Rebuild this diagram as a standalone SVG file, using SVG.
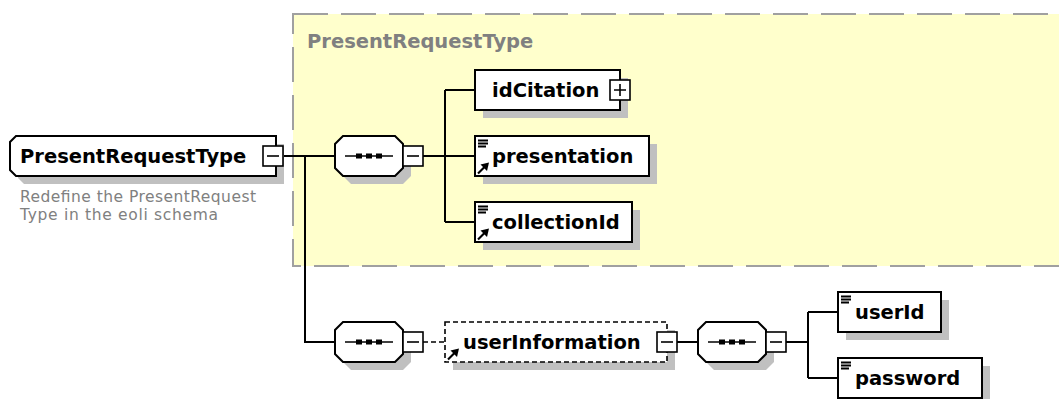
<svg xmlns="http://www.w3.org/2000/svg" width="1059" height="399" viewBox="0 0 1059 399">
<style>
.bg{fill:#ffffff}
.area{fill:#ffffcc;stroke:#a0a0a0;stroke-width:2;stroke-dasharray:35 13}
.shadow{fill:#c0c0c0;stroke:none}
.box{fill:#ffffff;stroke:#000000;stroke-width:2}
.dbox{fill:#ffffff;stroke:#000000;stroke-width:1.6;stroke-dasharray:5 3}
.btn{fill:#ffffff;stroke:#000000;stroke-width:1.6}
.sym{stroke:#000000;stroke-width:1.6;fill:none}
.wire{stroke:#000000;stroke-width:2;fill:none}
.dwire{stroke:#000000;stroke-width:1.6;fill:none;stroke-dasharray:5 3}
.lbl{font-family:"DejaVu Sans",Verdana,sans-serif;font-weight:bold;font-size:19.5px;fill:#000000}
.title{font-family:"DejaVu Sans",Verdana,sans-serif;font-weight:bold;font-size:19.5px;fill:#808080}
.doc{font-family:"DejaVu Sans",Verdana,sans-serif;font-size:15.5px;fill:#808080}
.ico{stroke:#000000;stroke-width:1.8;fill:none}
.dot{fill:#000000}
</style>
<defs>
<g id="lines"><path class="ico" d="M3,4.5 H13 M3,7.5 H13 M3,10.5 H11"/></g>
<g id="ref"><path d="M3,37.5 L10,30.5" stroke="#000" stroke-width="2.2"/><path d="M14,26.5 L5.5,28.5 L12,35 Z" fill="#000"/></g>
<path id="oct" d="M8,0 H60 L68,8 V32 L60,40 H8 L0,32 V8 Z"/>
<g id="seqin"><path d="M10,20 H58" class="sym"/><rect x="21" y="17.5" width="6" height="5" class="dot"/><rect x="31" y="17.5" width="6" height="5" class="dot"/><rect x="41" y="17.5" width="6" height="5" class="dot"/></g>
<g id="minus"><rect x="0" y="0" width="20" height="20" class="btn"/><path d="M4,10 H16" class="sym"/></g>
<g id="plus"><rect x="0" y="0" width="20" height="20" class="btn"/><path d="M4,10 H16 M10,4 V16" class="sym"/></g>
</defs>
<rect class="bg" x="0" y="0" width="1059" height="399"/>
<g id="typeArea">
<rect class="area" x="293" y="14" width="790" height="252"/>
<text class="title" x="307" y="48">PresentRequestType</text>
</g>
<g id="connectors">
<path class="wire" d="M283,156 H335 M305,156 V342 H335"/>
<path class="wire" d="M423,156 H445 M445,90 V222 M445,90 H475 M445,156 H475 M445,222 H475"/>
<path class="dwire" d="M423,342 H445"/>
<path class="wire" d="M677,342 H698"/>
<path class="wire" d="M786,342 H808 M808,312 V378 M808,312 H838 M808,378 H838"/>
</g>
<g id="root">
<path class="shadow" d="M24,144 H284 V184 H24 L18,178 V150 Z"/>
<path class="box" d="M16,136 H276 V176 H16 L10,170 V142 Z"/>
<text class="lbl" x="20" y="163">PresentRequestType</text>
<use href="#minus" x="263" y="146"/>
<text class="doc" x="20" y="202" textLength="236" lengthAdjust="spacing">Redefine the PresentRequest</text>
<text class="doc" x="20" y="220" textLength="198" lengthAdjust="spacing">Type in the eoli schema</text>
</g>
<g id="seq1">
<use href="#oct" x="343" y="144" class="shadow"/>
<use href="#oct" x="335" y="136" class="box"/>
<use href="#seqin" x="335" y="136"/>
<use href="#minus" x="403" y="146"/>
</g>
<g id="idCitation">
<rect class="shadow" x="483" y="78" width="145" height="40"/>
<rect class="box" x="475" y="70" width="145" height="40"/>
<text class="lbl" x="492" y="97">idCitation</text>
<use href="#plus" x="610" y="80"/>
</g>
<g id="presentation">
<rect class="shadow" x="483" y="144" width="174" height="40"/>
<rect class="box" x="475" y="136" width="174" height="40"/>
<use href="#lines" x="475" y="136"/>
<use href="#ref" x="475" y="136"/>
<text class="lbl" x="492" y="163">presentation</text>
</g>
<g id="collectionId">
<rect class="shadow" x="483" y="210" width="157" height="40"/>
<rect class="box" x="475" y="202" width="157" height="40"/>
<use href="#lines" x="475" y="202"/>
<use href="#ref" x="475" y="202"/>
<text class="lbl" x="492" y="229">collectionId</text>
</g>
<g id="seq2">
<use href="#oct" x="343" y="330" class="shadow"/>
<use href="#oct" x="335" y="322" class="box"/>
<use href="#seqin" x="335" y="322"/>
<use href="#minus" x="403" y="332"/>
</g>
<g id="userInformation">
<rect class="shadow" x="453" y="330" width="222" height="40"/>
<rect class="dbox" x="445" y="322" width="222" height="40"/>
<use href="#ref" x="445" y="322"/>
<text class="lbl" x="463" y="349">userInformation</text>
<use href="#minus" x="657" y="332"/>
</g>
<g id="seq3">
<use href="#oct" x="706" y="330" class="shadow"/>
<use href="#oct" x="698" y="322" class="box"/>
<use href="#seqin" x="698" y="322"/>
<use href="#minus" x="766" y="332"/>
</g>
<g id="userId">
<rect class="shadow" x="846" y="300" width="103" height="40"/>
<rect class="box" x="838" y="292" width="103" height="40"/>
<use href="#lines" x="838" y="292"/>
<text class="lbl" x="855" y="319">userId</text>
</g>
<g id="password">
<rect class="shadow" x="846" y="366" width="144" height="40"/>
<rect class="box" x="838" y="358" width="144" height="40"/>
<use href="#lines" x="838" y="358"/>
<text class="lbl" x="855" y="385">password</text>
</g>
</svg>
